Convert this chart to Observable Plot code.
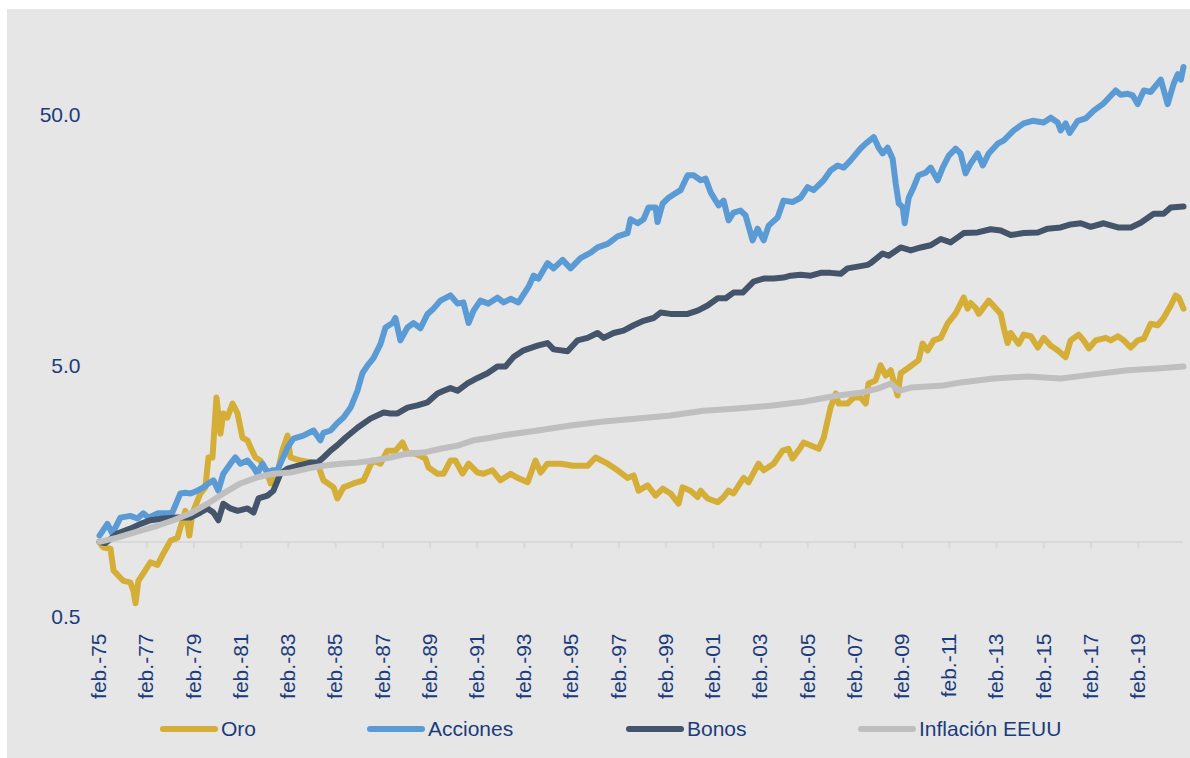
<!DOCTYPE html>
<html>
<head>
<meta charset="utf-8">
<script src="https://cdn.jsdelivr.net/npm/d3@7"></script>
<script src="https://cdn.jsdelivr.net/npm/@observablehq/plot@0.6"></script>
<style>
html, body { margin: 0; padding: 0; background: #ffffff; }
#chart { position: absolute; left: 7px; top: 9px; width: 1183px; height: 749px; background: #e7e6e6;
  font-family: "Liberation Sans", Arial, sans-serif; color: #1a3c7c; overflow: hidden; }
#plot { position: absolute; left: 0; top: 0; }
.item { position: absolute; top: 708px; height: 24px; display: flex; align-items: center; font-size: 21px; white-space: nowrap; }
.item svg { display: block; margin-right: 3px; }
</style>
</head>
<body>
<div id="chart"><div id="plot"></div></div>
<script>
// Series: [decimal year, index value] (base Feb-1975 = 1)
const oro = [[1975.085,1.00],[1975.25,0.95],[1975.55,0.94],[1975.68,0.77],[1975.97,0.72],[1976.10,0.70],[1976.39,0.69],[1976.52,0.64],[1976.61,0.57],[1976.73,0.70],[1976.94,0.75],[1977.24,0.83],[1977.54,0.81],[1977.79,0.90],[1978.09,1.01],[1978.39,1.04],[1978.51,1.14],[1978.72,1.33],[1978.89,1.06],[1979.02,1.30],[1979.36,1.56],[1979.57,1.65],[1979.70,2.17],[1979.87,2.17],[1980.04,3.76],[1980.21,2.70],[1980.33,3.25],[1980.50,3.13],[1980.72,3.56],[1980.93,3.25],[1981.14,2.60],[1981.35,2.54],[1981.48,2.38],[1981.69,2.17],[1981.90,2.11],[1982.20,1.87],[1982.33,1.71],[1982.62,1.87],[1982.83,2.31],[1983.05,2.65],[1983.17,2.17],[1983.60,2.11],[1984.32,2.05],[1984.57,1.76],[1985.00,1.65],[1985.16,1.49],[1985.42,1.65],[1985.84,1.71],[1986.27,1.76],[1986.65,2.11],[1986.99,2.05],[1987.28,2.31],[1987.62,2.31],[1987.92,2.49],[1988.13,2.25],[1988.47,2.25],[1988.89,2.15],[1989.02,1.98],[1989.40,1.87],[1989.66,1.87],[1989.95,2.11],[1990.16,2.11],[1990.46,1.87],[1990.72,2.05],[1991.10,1.89],[1991.35,1.87],[1991.73,1.93],[1992.07,1.76],[1992.50,1.87],[1992.79,1.80],[1993.22,1.73],[1993.55,2.11],[1993.77,1.89],[1994.06,2.05],[1994.61,2.05],[1995.16,2.01],[1995.76,2.01],[1996.10,2.17],[1996.61,2.05],[1997.03,1.93],[1997.45,1.80],[1997.71,1.84],[1997.92,1.60],[1998.30,1.68],[1998.64,1.53],[1998.94,1.63],[1999.27,1.56],[1999.61,1.42],[1999.78,1.65],[2000.12,1.60],[2000.42,1.51],[2000.55,1.60],[2000.84,1.49],[2001.27,1.44],[2001.52,1.51],[2001.73,1.60],[2001.94,1.56],[2002.37,1.80],[2002.58,1.73],[2003.00,2.05],[2003.22,1.93],[2003.64,2.05],[2004.02,2.31],[2004.27,2.35],[2004.44,2.15],[2004.78,2.38],[2004.91,2.49],[2005.55,2.35],[2005.76,2.60],[2006.05,3.43],[2006.27,3.90],[2006.39,3.56],[2006.77,3.56],[2007.03,3.76],[2007.33,3.76],[2007.54,3.56],[2007.66,4.28],[2007.96,4.40],[2008.17,5.05],[2008.39,4.60],[2008.60,4.83],[2008.89,3.83],[2009.02,4.70],[2009.32,4.92],[2009.78,5.30],[2009.95,6.17],[2010.16,5.79],[2010.42,6.35],[2010.72,6.50],[2011.01,7.42],[2011.35,8.13],[2011.69,9.41],[2011.86,8.50],[2011.99,8.95],[2012.20,8.55],[2012.33,8.10],[2012.75,9.15],[2013.26,8.10],[2013.39,7.10],[2013.55,6.20],[2013.68,6.80],[2014.02,6.15],[2014.23,6.70],[2014.53,6.60],[2014.83,5.95],[2015.08,6.50],[2015.38,6.05],[2015.67,5.80],[2016.01,5.45],[2016.22,6.35],[2016.56,6.70],[2016.77,6.35],[2016.99,5.90],[2017.28,6.35],[2017.71,6.50],[2017.92,6.35],[2018.22,6.60],[2018.47,6.35],[2018.77,5.95],[2019.06,6.35],[2019.32,6.45],[2019.61,7.40],[2019.91,7.30],[2020.16,7.80],[2020.46,8.75],[2020.67,9.60],[2020.80,9.40],[2021.0,8.50]];

const acciones = [[1975.085,1.06],[1975.42,1.18],[1975.63,1.08],[1975.97,1.25],[1976.39,1.27],[1976.69,1.24],[1976.94,1.30],[1977.16,1.25],[1977.54,1.30],[1977.96,1.30],[1978.17,1.31],[1978.51,1.56],[1978.72,1.57],[1978.94,1.56],[1979.23,1.60],[1979.49,1.65],[1979.70,1.71],[1979.91,1.76],[1980.12,1.60],[1980.33,1.87],[1980.63,2.05],[1980.84,2.17],[1981.05,2.05],[1981.35,2.11],[1981.61,1.98],[1981.77,1.87],[1981.99,2.05],[1982.20,1.89],[1982.41,1.93],[1982.62,1.93],[1983.05,2.38],[1983.30,2.58],[1983.72,2.65],[1984.15,2.78],[1984.44,2.54],[1984.57,2.72],[1984.87,2.78],[1985.16,2.98],[1985.42,3.13],[1985.72,3.43],[1986.01,4.0],[1986.22,4.7],[1986.44,5.05],[1986.69,5.4],[1986.99,6.15],[1987.20,7.15],[1987.50,7.45],[1987.62,7.8],[1987.83,6.35],[1988.13,7.15],[1988.39,7.45],[1988.68,7.1],[1988.98,8.1],[1989.23,8.5],[1989.53,9.15],[1989.95,9.6],[1990.25,8.9],[1990.50,9.0],[1990.72,7.45],[1990.93,8.35],[1991.22,9.15],[1991.56,8.9],[1991.94,9.4],[1992.20,9.0],[1992.50,9.3],[1992.83,9.0],[1993.26,10.4],[1993.47,11.5],[1993.68,11.2],[1994.06,12.9],[1994.32,12.3],[1994.70,13.3],[1995.04,12.3],[1995.46,13.5],[1995.89,14.2],[1996.18,14.9],[1996.61,15.4],[1997.03,16.5],[1997.45,17.0],[1997.58,19.3],[1997.88,18.6],[1998.13,19.3],[1998.34,21.5],[1998.64,21.5],[1998.72,18.8],[1998.94,22.3],[1999.19,23.5],[1999.40,24.2],[1999.70,25.2],[2000.00,28.9],[2000.25,28.9],[2000.55,27.6],[2000.76,28.0],[2000.97,24.7],[2001.31,21.9],[2001.52,22.9],[2001.73,19.1],[2001.94,20.5],[2002.24,20.9],[2002.45,20.0],[2002.75,15.9],[2002.96,17.7],[2003.22,15.9],[2003.43,18.2],[2003.81,19.6],[2004.06,22.9],[2004.44,22.6],[2004.78,23.5],[2005.08,25.9],[2005.33,25.2],[2005.76,27.6],[2006.05,30.2],[2006.35,31.6],[2006.61,31.0],[2006.90,33.1],[2007.33,37.0],[2007.54,38.6],[2007.88,41.0],[2008.09,37.2],[2008.26,35.3],[2008.47,37.2],[2008.68,33.6],[2008.81,26.8],[2008.94,22.3],[2009.11,21.5],[2009.19,18.6],[2009.36,23.5],[2009.57,25.9],[2009.78,28.9],[2010.08,29.6],[2010.29,31.0],[2010.59,27.6],[2010.80,31.0],[2011.06,34.6],[2011.35,36.9],[2011.56,35.3],[2011.77,29.4],[2011.99,32.2],[2012.28,35.3],[2012.50,31.6],[2012.75,35.3],[2013.13,38.6],[2013.39,39.8],[2013.81,43.6],[2014.23,46.5],[2014.61,47.6],[2015.08,46.9],[2015.38,49.0],[2015.67,46.9],[2015.80,43.6],[2016.01,46.5],[2016.18,42.6],[2016.52,47.6],[2016.86,48.7],[2017.20,52.3],[2017.62,55.9],[2018.13,62.9],[2018.34,60.5],[2018.64,61.0],[2018.85,60.1],[2019.06,55.5],[2019.32,62.9],[2019.61,62.0],[2020.04,69.5],[2020.33,55.5],[2020.59,67.2],[2020.76,73.0],[2020.89,69.5],[2021.0,78.0]];

const bonos = [[1975.085,1.0],[1975.33,0.99],[1975.84,1.08],[1976.39,1.13],[1976.82,1.18],[1977.24,1.22],[1977.79,1.24],[1978.39,1.25],[1978.94,1.25],[1979.36,1.31],[1979.66,1.36],[1979.91,1.31],[1980.12,1.22],[1980.33,1.42],[1980.63,1.36],[1980.93,1.33],[1981.35,1.36],[1981.61,1.31],[1981.82,1.49],[1982.20,1.53],[1982.45,1.60],[1982.75,1.87],[1983.05,1.96],[1983.47,2.01],[1984.02,2.07],[1984.32,2.07],[1984.57,2.17],[1984.87,2.31],[1985.16,2.43],[1985.50,2.60],[1986.01,2.85],[1986.56,3.10],[1987.12,3.28],[1987.41,3.25],[1987.71,3.25],[1988.13,3.43],[1988.55,3.50],[1988.98,3.60],[1989.40,3.90],[1989.66,4.00],[1989.95,4.10],[1990.25,4.00],[1990.67,4.28],[1991.10,4.50],[1991.52,4.70],[1991.94,5.00],[1992.28,5.00],[1992.62,5.45],[1993.05,5.80],[1993.64,6.05],[1994.06,6.20],[1994.32,5.85],[1994.91,5.75],[1995.33,6.35],[1995.76,6.50],[1996.18,6.80],[1996.44,6.50],[1996.86,6.80],[1997.28,6.95],[1997.71,7.30],[1998.13,7.60],[1998.55,7.80],[1998.85,8.20],[1999.27,8.10],[2000.00,8.10],[2000.42,8.35],[2000.84,8.75],[2001.27,9.35],[2001.61,9.35],[2001.94,9.85],[2002.33,9.85],[2002.79,10.9],[2003.22,11.2],[2003.64,11.2],[2004.06,11.3],[2004.36,11.5],[2004.78,11.6],[2005.21,11.5],[2005.63,11.8],[2006.05,11.8],[2006.48,11.7],[2006.77,12.3],[2007.20,12.5],[2007.62,12.7],[2007.75,12.9],[2008.26,14.1],[2008.51,13.8],[2009.02,14.9],[2009.45,14.5],[2009.87,14.9],[2010.29,15.2],[2010.72,16.1],[2011.14,15.6],[2011.69,17.0],[2012.28,17.1],[2012.83,17.6],[2013.26,17.4],[2013.68,16.7],[2014.23,17.0],[2014.83,17.1],[2015.25,17.7],[2015.80,17.9],[2016.22,18.4],[2016.65,18.6],[2017.07,18.0],[2017.62,18.6],[2018.22,17.9],[2018.77,17.9],[2019.19,18.7],[2019.74,20.3],[2020.16,20.3],[2020.46,21.5],[2021.0,21.7]];

const inflacion = [[1975.085,1.0],[1975.84,1.04],[1976.82,1.11],[1977.54,1.16],[1978.22,1.22],[1978.94,1.30],[1979.66,1.42],[1980.33,1.56],[1981.05,1.71],[1981.77,1.81],[1982.45,1.87],[1983.17,1.89],[1983.89,1.96],[1984.57,2.01],[1985.29,2.05],[1986.01,2.07],[1986.69,2.11],[1987.41,2.17],[1988.13,2.25],[1988.81,2.27],[1989.53,2.35],[1990.25,2.42],[1990.93,2.54],[1991.65,2.60],[1992.20,2.66],[1993.64,2.78],[1995.04,2.91],[1996.44,3.02],[1997.88,3.10],[1999.27,3.19],[2000.67,3.33],[2002.11,3.40],[2003.51,3.49],[2004.91,3.62],[2006.35,3.83],[2007.33,3.93],[2008.05,4.08],[2008.60,4.28],[2008.94,4.00],[2009.45,4.12],[2010.84,4.20],[2011.56,4.32],[2012.96,4.48],[2014.40,4.56],[2015.80,4.48],[2017.20,4.65],[2018.64,4.83],[2020.04,4.92],[2021.0,5.00]];

const seriesNames = ["Oro", "Acciones", "Bonos", "Inflación EEUU"];
const seriesColors = ["#d5ae38", "#5b9bd5", "#44546a", "#bfbfbf"];
const seriesData = [oro, acciones, bonos, inflacion];

const xTickYears = [1975,1977,1979,1981,1983,1985,1987,1989,1991,1993,1995,1997,1999,2001,2003,2005,2007,2009,2011,2013,2015,2017,2019];
const xTickLabels = ["feb.-75","feb.-77","feb.-79","feb.-81","feb.-83","feb.-85","feb.-87","feb.-89","feb.-91","feb.-93","feb.-95","feb.-97","feb.-99","feb.-01","feb.-03","feb.-05","feb.-07","feb.-09","feb.-11","feb.-13","feb.-15","feb.-17","feb.-19"];
const yTicks = [0.5, 5, 50];
const yTickLabels = ["0.5", "5.0", "50.0"];

const toDate = t => {
  const y = Math.floor(t);
  const start = Date.UTC(y, 0, 1), end = Date.UTC(y + 1, 0, 1);
  return new Date(start + (t - y) * (end - start));
};

const rows = seriesData.flatMap((arr, k) => arr.map(([t, v]) => ({serie: seriesNames[k], date: toDate(t), value: v})));
const tickDates = xTickYears.map(y => new Date(Date.UTC(y, 1, 1)));

const chart = Plot.plot({
  width: 1183,
  height: 700,
  marginLeft: 92,
  marginRight: 7,
  marginTop: 30.4,
  marginBottom: 92,
  style: {background: "transparent", fontFamily: "'Liberation Sans', Arial, sans-serif", fontSize: "21px", color: "#1a3c7c"},
  x: {type: "utc", domain: [new Date(Date.UTC(1975, 1, 1)), new Date(Date.UTC(2021, 0, 1))]},
  y: {type: "log", domain: [0.5, 100], axis: null},
  color: {domain: seriesNames, range: seriesColors},
  marks: [
    Plot.ruleY([1], {stroke: "#d9d9d9", strokeWidth: 2}),
    Plot.ruleX(tickDates, {x: d => d, y1: 1, y2: 1, insetBottom: -7, stroke: "#d9d9d9", strokeWidth: 2}),
    Plot.text(yTicks, {y: d => d, text: (d, i) => yTickLabels[i], frameAnchor: "left", textAnchor: "end", dx: -19, fill: "#1a3c7c", fontSize: 21}),
    Plot.axisX({ticks: tickDates, tickFormat: d => xTickLabels[xTickYears.indexOf(d.getUTCFullYear())], tickRotate: -90, tickSize: 0, tickPadding: 16, label: null}),
    Plot.lineY(rows, {x: "date", y: "value", z: "serie", stroke: "serie", strokeWidth: 6, strokeLinejoin: "round", strokeLinecap: "round"})
  ]
});
document.getElementById("plot").appendChild(chart);

// Legend below the plot
const legendLeft = [153, 360, 619, 851];
const box = document.getElementById("chart");
seriesNames.forEach((name, k) => {
  const item = document.createElement("div");
  item.className = "item";
  item.style.left = legendLeft[k] + "px";
  item.innerHTML = `<svg width="58" height="10"><line x1="3" y1="5" x2="55" y2="5" stroke="${seriesColors[k]}" stroke-width="6" stroke-linecap="round"/></svg><span>${name}</span>`;
  box.appendChild(item);
});
</script>
</body>
</html>
